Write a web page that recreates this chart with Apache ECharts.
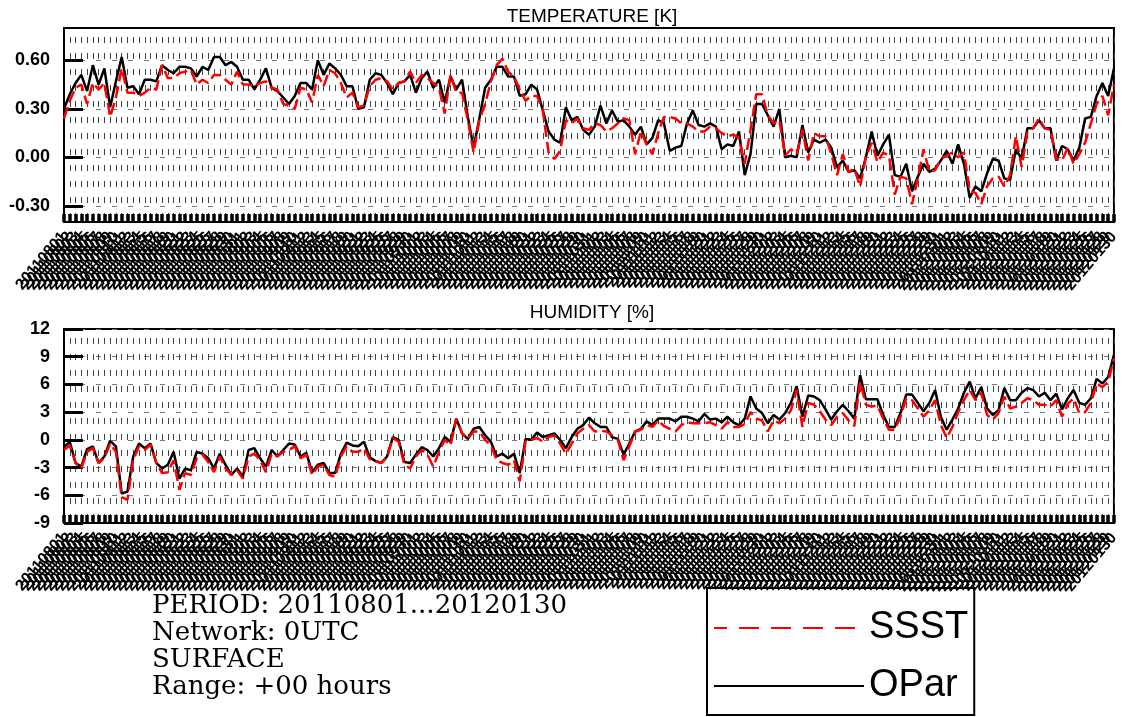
<!DOCTYPE html>
<html>
<head>
<meta charset="utf-8">
<script src="https://cdn.jsdelivr.net/npm/echarts@6/dist/echarts.min.js"></script>
<style>html,body{margin:0;padding:0;background:#fff}#c{width:1122px;height:717px}</style>
</head>
<body>
<div id="c"></div>
<script>
// ---- categories: daily dates 20110801 .. 20120130 ----
const startDate = Date.UTC(2011, 7, 1);
const dayCount = 183;
const dates = [];
for (let k = 0; k < dayCount; k++) {
  const d = new Date(startDate + k * 86400000);
  dates.push(String(d.getUTCFullYear()) + String(d.getUTCMonth() + 1).padStart(2, '0') + String(d.getUTCDate()).padStart(2, '0'));
}

// ---- tick labels ----
const tempTicks = [-0.3, 0, 0.3, 0.6];
const humTicks = [-9, -6, -3, 0, 3, 6, 9, 12];

// ---- TEMPERATURE [K] ----
const tempOPar = [0.30,0.39,0.46,0.51,0.41,0.57,0.45,0.55,0.31,0.47,0.62,0.43,0.44,0.39,0.48,0.48,0.47,0.57,0.54,0.52,
0.56,0.56,0.55,0.50,0.56,0.54,0.62,0.62,0.57,0.59,0.56,0.48,0.48,0.42,0.48,0.55,0.43,0.41,0.37,0.33,
0.38,0.46,0.46,0.42,0.60,0.51,0.58,0.55,0.51,0.44,0.44,0.30,0.31,0.48,0.52,0.51,0.46,0.39,0.46,0.47,
0.51,0.40,0.49,0.53,0.43,0.48,0.34,0.50,0.42,0.48,0.25,0.06,0.24,0.43,0.48,0.56,0.56,0.50,0.50,0.38,
0.39,0.45,0.42,0.29,0.16,0.11,0.09,0.31,0.23,0.25,0.17,0.14,0.19,0.32,0.21,0.29,0.22,0.23,0.19,0.14,
0.19,0.08,0.12,0.23,0.21,0.04,0.06,0.07,0.21,0.29,0.20,0.19,0.21,0.19,0.05,0.08,0.07,0.16,-0.11,0.02,
0.33,0.33,0.26,0.19,0.30,0.00,0.01,0.00,0.20,0.03,0.11,0.09,0.11,0.06,-0.06,-0.02,-0.09,-0.08,-0.13,0.00,
0.16,0.01,0.08,0.14,-0.11,-0.12,-0.04,-0.21,-0.12,-0.04,-0.09,-0.07,-0.02,0.04,-0.04,0.08,-0.04,-0.25,-0.18,-0.21,
-0.10,-0.01,-0.02,-0.13,-0.14,0.05,-0.01,0.18,0.18,0.23,0.18,0.18,-0.02,0.07,0.05,-0.02,0.06,0.24,0.25,0.38,
0.46,0.38,0.55];
const tempSSST = [0.24,0.35,0.43,0.45,0.33,0.46,0.42,0.46,0.25,0.37,0.55,0.40,0.40,0.38,0.40,0.43,0.42,0.57,0.49,0.49,
0.52,0.53,0.54,0.45,0.48,0.46,0.51,0.51,0.48,0.45,0.53,0.45,0.45,0.44,0.46,0.47,0.43,0.42,0.33,0.32,
0.30,0.43,0.42,0.34,0.51,0.44,0.54,0.52,0.46,0.37,0.40,0.31,0.32,0.44,0.48,0.49,0.47,0.42,0.46,0.47,
0.53,0.46,0.51,0.49,0.46,0.43,0.27,0.51,0.40,0.40,0.23,0.03,0.23,0.33,0.47,0.57,0.61,0.53,0.50,0.42,
0.35,0.38,0.38,0.29,0.03,-0.01,0.04,0.23,0.21,0.24,0.18,0.17,0.21,0.20,0.16,0.18,0.21,0.24,0.23,0.02,
0.16,0.08,0.02,0.15,0.25,0.25,0.24,0.21,0.21,0.19,0.16,0.16,0.19,0.18,0.15,0.13,0.14,0.12,-0.04,0.17,
0.39,0.39,0.26,0.21,0.23,0.01,0.05,0.02,0.17,-0.02,0.15,0.13,0.13,0.02,-0.11,0.02,-0.09,-0.07,-0.18,0.00,
0.09,-0.03,0.03,0.01,-0.23,-0.12,-0.13,-0.29,-0.13,0.05,-0.09,-0.08,-0.01,0.01,0.03,0.00,0.03,-0.21,-0.22,-0.29,
-0.18,-0.13,-0.12,-0.18,-0.11,0.13,-0.06,0.16,0.18,0.24,0.18,0.17,-0.01,-0.02,0.06,-0.04,0.02,0.09,0.21,0.33,
0.38,0.26,0.45];

// ---- HUMIDITY [%] ----
const humOPar = [-0.8,-0.2,-2.5,-2.9,-1.0,-0.7,-2.5,-1.8,-0.1,-0.7,-5.8,-5.6,-1.8,-0.4,-0.9,-0.4,-2.5,-3.1,-2.7,-1.3,
-4.2,-3.1,-3.3,-1.3,-1.5,-2.0,-3.1,-1.5,-2.7,-3.8,-3.1,-4.0,-1.1,-0.9,-2.0,-2.9,-1.1,-1.8,-1.1,-0.4,
-0.5,-1.8,-1.4,-3.5,-2.7,-2.5,-3.6,-3.6,-1.5,-0.3,-0.6,-0.7,-0.2,-1.9,-2.3,-2.5,-1.8,0.3,0.0,-2.4,
-2.5,-1.6,-0.8,-1.1,-1.8,-0.9,0.3,-0.2,2.3,0.7,0.1,1.2,1.4,0.5,-0.2,-1.8,-1.5,-2.0,-1.5,-3.6,
0.1,0.0,0.8,0.3,0.5,0.7,0.0,-0.9,0.3,1.2,1.6,2.4,1.8,1.4,1.4,0.3,0.1,-1.6,-0.4,0.9,
1.2,2.0,1.6,2.3,2.3,2.3,2.0,2.5,2.5,2.3,2.0,2.8,2.2,2.3,1.9,2.5,1.9,1.6,2.3,4.7,
3.4,2.9,1.8,2.7,2.2,2.9,4.0,5.8,2.5,4.8,4.7,4.3,3.3,2.2,3.1,3.8,3.1,2.3,7.0,4.4,
4.4,4.4,2.7,1.4,1.4,2.9,4.9,4.9,4.0,3.1,4.0,5.4,2.5,1.1,2.2,3.4,5.1,6.3,4.5,5.7,
3.4,2.7,3.2,5.6,4.3,4.3,5.1,5.6,5.4,4.7,5.1,4.3,5.0,3.3,4.5,5.4,4.0,3.8,4.5,6.6,
6.1,6.8,9.2];
const humSSST = [-1.1,-0.6,-2.5,-3.1,-1.3,-0.9,-2.5,-2.0,-0.4,-1.3,-6.2,-6.5,-2.2,-0.7,-1.1,-0.5,-2.5,-3.6,-3.5,-2.2,
-5.4,-3.6,-3.8,-2.0,-1.6,-2.4,-3.5,-1.8,-3.1,-3.8,-3.3,-4.2,-1.8,-1.5,-2.2,-3.5,-1.5,-1.8,-1.3,-1.1,
-0.7,-2.0,-1.6,-3.8,-2.9,-2.7,-3.8,-4.0,-1.8,-0.7,-1.3,-1.3,-0.9,-2.1,-2.3,-2.5,-1.9,0.2,-0.2,-2.7,
-3.1,-1.8,-1.1,-1.6,-2.9,-1.3,0.0,-0.6,2.3,0.7,0.1,0.9,0.9,0.0,-0.6,-2.2,-2.5,-2.7,-2.2,-4.5,
-0.2,0.0,0.2,-0.2,0.3,0.5,-0.4,-1.5,-0.4,0.7,1.2,1.6,0.9,1.0,0.9,0.5,0.0,-2.2,-0.7,0.9,
1.1,1.6,1.4,2.1,1.5,1.2,0.9,1.6,1.9,1.8,1.8,1.8,1.9,1.6,1.2,1.9,1.4,1.4,1.7,3.0,
2.3,2.1,0.9,2.1,1.8,2.3,3.2,5.4,1.4,4.0,3.8,3.1,2.2,1.6,2.5,2.9,2.1,1.5,6.3,3.8,
3.6,3.7,2.3,1.1,1.1,2.5,4.5,4.3,3.4,2.5,3.2,4.3,1.6,0.2,1.4,3.0,4.3,5.4,4.3,5.1,
2.7,2.2,2.9,4.7,3.4,3.6,4.0,4.5,4.3,3.8,3.8,3.6,4.3,2.5,3.9,4.5,2.9,3.0,4.0,6.1,
5.7,6.3,8.8];

const sans = 'Liberation Sans';
const gridDef = [
  {left: 64, top: 28, width: 1056, height: 194},
  {left: 64, top: 329, width: 1056, height: 194}
];

function xAxisFor(idx) {
  return {
    type: 'category', gridIndex: idx, data: dates, boundaryGap: false, position: 'bottom',
    axisLine: {show: true, onZero: false, lineStyle: {color: '#000', width: 2}},
    axisTick: {show: true, inside: true, interval: 0, length: 8, lineStyle: {color: '#000', width: 3.5}},
    axisLabel: {interval: 0, rotate: 50, margin: 12, fontSize: 16, fontWeight: 'bold', fontFamily: sans, color: '#000'},
    splitLine: {show: true, interval: 0, lineStyle: {color: '#444', width: 1, type: [6, 10], dashOffset: 7}}
  };
}

const option = {
  animation: false,
  backgroundColor: '#fff',
  grid: gridDef.map(g => Object.assign({show: true, borderColor: '#000', borderWidth: 2, backgroundColor: 'transparent'}, g)),
  title: [
    {text: 'TEMPERATURE [K]', left: 592, top: 7, textAlign: 'center', padding: 0,
     textStyle: {fontFamily: sans, fontSize: 19, fontWeight: 'normal', color: '#000'}},
    {text: 'HUMIDITY [%]', left: 592, top: 303, textAlign: 'center', padding: 0,
     textStyle: {fontFamily: sans, fontSize: 19, fontWeight: 'normal', color: '#000'}},
    {text: 'PERIOD: 20110801...20120130\nNetwork: 0UTC\nSURFACE\nRange: +00 hours', left: 152, top: 593, padding: 0,
     textStyle: {fontFamily: 'DejaVu Serif', fontSize: 26, lineHeight: 27, fontWeight: 'normal', color: '#000'}}
  ],
  legend: {
    orient: 'vertical', left: 707, top: 588, itemWidth: 150, itemHeight: 20, itemGap: 20,
    padding: [21, 6, 10, 6], borderColor: '#000', borderWidth: 2, selectedMode: false,
    textStyle: {fontSize: 38, fontFamily: sans, color: '#000'},
    data: [
      {name: 'SSST', itemStyle: {opacity: 0}, lineStyle: {color: '#ff0000', width: 2, type: [20, 12]}},
      {name: 'OPar', itemStyle: {opacity: 0}, lineStyle: {color: '#000', width: 2, type: 'solid'}}
    ]
  },
  xAxis: [xAxisFor(0), xAxisFor(1)],
  yAxis: [
    {
      type: 'value', gridIndex: 0, min: -0.4, max: 0.8,
      axisLine: {show: true, onZero: false, lineStyle: {color: '#000', width: 2}},
      axisTick: {show: true, inside: true, length: 19, customValues: tempTicks, lineStyle: {color: '#000', width: 3}},
      axisLabel: {customValues: tempTicks, margin: 14, fontSize: 18, fontWeight: 'bold', fontFamily: sans, color: '#000',
                  formatter: v => v.toFixed(2)},
      splitLine: {show: true, lineStyle: {color: '#777', width: 1, type: [5, 11]}}
    },
    {
      type: 'value', gridIndex: 1, min: -9, max: 12, interval: 3,
      axisLine: {show: true, onZero: false, lineStyle: {color: '#000', width: 2}},
      axisTick: {show: true, inside: true, length: 19, lineStyle: {color: '#000', width: 3}},
      axisLabel: {margin: 14, fontSize: 18, fontWeight: 'bold', fontFamily: sans, color: '#000'},
      splitLine: {show: true, lineStyle: {color: '#777', width: 1, type: [5, 11]}}
    }
  ],
  series: [
    {name: 'OPar', type: 'line', xAxisIndex: 0, yAxisIndex: 0, data: tempOPar, symbol: 'none',
     lineStyle: {color: '#000', width: 2.5}, itemStyle: {color: '#000'}},
    {name: 'SSST', type: 'line', xAxisIndex: 0, yAxisIndex: 0, data: tempSSST, symbol: 'none',
     lineStyle: {color: '#ff0000', width: 2.5, type: [12, 5]}, itemStyle: {color: '#ff0000'}},
    {name: 'OPar', type: 'line', xAxisIndex: 1, yAxisIndex: 1, data: humOPar, symbol: 'none',
     lineStyle: {color: '#000', width: 2.5}, itemStyle: {color: '#000'}},
    {name: 'SSST', type: 'line', xAxisIndex: 1, yAxisIndex: 1, data: humSSST, symbol: 'none',
     lineStyle: {color: '#ff0000', width: 2.5, type: [12, 5]}, itemStyle: {color: '#ff0000'}}
  ]
};

const chart = echarts.init(document.getElementById('c'), null, {renderer: 'canvas'});
chart.setOption(option);
</script>
</body>
</html>
